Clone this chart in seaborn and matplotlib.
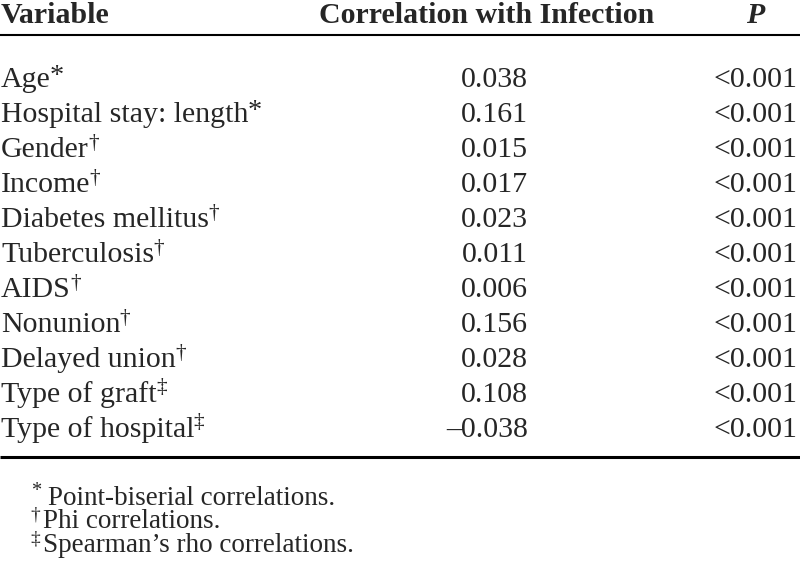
import matplotlib
matplotlib.use("Agg")
import matplotlib.pyplot as plt
import seaborn as sns

# ── dados da tabela ──────────────────────────────────────────
variaveis = [
    "Age", "Hospital stay: length", "Gender", "Income", "Diabetes mellitus",
    "Tuberculosis", "AIDS", "Nonunion", "Delayed union", "Type of graft",
    "Type of hospital",
]
marcas = ["*", "*", "†", "†", "†", "†", "†", "†", "†", "‡", "‡"]
correlacoes = [0.038, 0.161, 0.015, 0.017, 0.023, 0.011, 0.006, 0.156,
               0.028, 0.108, -0.038]
valores_p = ["<0.001"] * 11
cabecalhos = ["Variable", "Correlation with Infection", "P"]
notas_marcas = ["*", "†", "‡"]
notas_textos = ["Point-biserial correlations.", "Phi correlations.",
                "Spearman’s rho correlations."]

# ── estilo ───────────────────────────────────────────────────
sns.set_theme(style="white")
plt.rcParams["font.family"] = ["Liberation Serif", "DejaVu Serif"]

fig = plt.figure(figsize=(8, 5.74), dpi=100)
ax = fig.add_axes([0, 0, 1, 1])
ax.set_xlim(0, 800)
ax.set_ylim(574, 0)
ax.axis("off")

FS = 21.5
FS_NOTA = 19.5


def sobrescrito(t, marca, tamanho):
    # marca logo após o texto, um pouco acima da altura das maiúsculas
    tam = tamanho * (0.95 if marca == "*" else 0.72)
    ax.annotate(marca, xy=(1, 1), xycoords=t, xytext=(-0.5, 2),
                textcoords="offset points", fontsize=tam,
                va="top", ha="left")


# cabeçalho
ax.text(1, 23, cabecalhos[0], fontsize=FS, fontweight="bold", va="baseline", ha="left")
ax.text(487, 23, cabecalhos[1], fontsize=FS, fontweight="bold", va="baseline", ha="center")
ax.text(755, 23, cabecalhos[2], fontsize=FS, fontweight="bold", style="italic",
        va="baseline", ha="center")
ax.plot([0, 800], [35, 35], color="black", lw=1.5, solid_capstyle="butt")

# linhas da tabela
y0, passo = 87, 35
for i, (nome, marca, r, p) in enumerate(zip(variaveis, marcas, correlacoes, valores_p)):
    y = y0 + i * passo
    t = ax.text(1, y, nome, fontsize=FS, va="baseline", ha="left")
    sobrescrito(t, marca, FS)
    txt_r = f"{r:.3f}".replace("-", "–")
    ax.text(528, y, txt_r, fontsize=FS, va="baseline", ha="right")
    ax.text(797, y, p, fontsize=FS, va="baseline", ha="right")

ax.plot([0, 800], [457, 457], color="black", lw=2.2, solid_capstyle="butt")

# notas de rodapé
for j, (marca, texto) in enumerate(zip(notas_marcas, notas_textos)):
    y = 505 + j * 23.5
    ax.text(42 if j == 0 else 40, y - 9, marca,
            fontsize=FS_NOTA * (0.75 if marca == "*" else 0.72),
            va="baseline", ha="right")
    ax.text(48 if j == 0 else 43, y, texto, fontsize=FS_NOTA, va="baseline", ha="left")

fig.savefig("out.png", dpi=100, facecolor="white")
